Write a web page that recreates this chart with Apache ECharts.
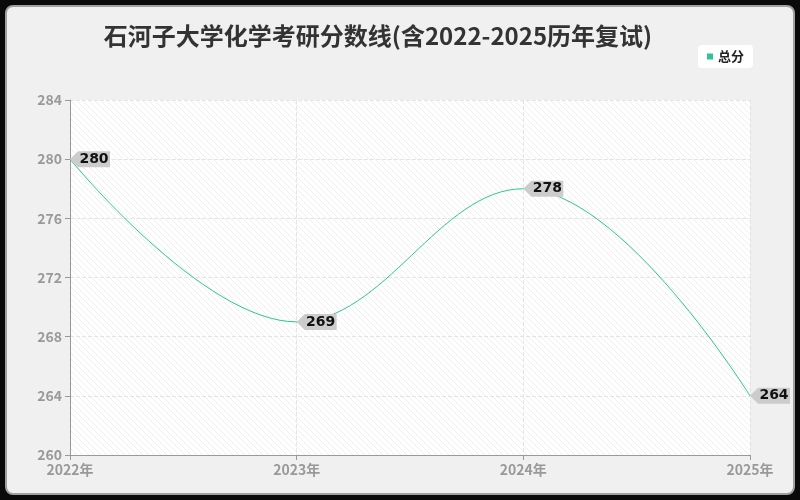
<!DOCTYPE html>
<html>
<head>
<meta charset="utf-8">
<script src="https://cdn.jsdelivr.net/npm/echarts@6/dist/echarts.min.js"></script>
<style>
html,body{margin:0;padding:0;background:#0a0a0a;}
#box{position:absolute;left:5px;top:5px;width:786px;height:486px;border:2px solid #a0a0a0;border-radius:8px;background:#f0f0f0;overflow:hidden;}
#chart{width:786px;height:486px;}
</style>
</head>
<body>
<div id="box"><div id="chart"></div></div>
<script>
var years=['2022年','2023年','2024年','2025年'];
var scores=[280,269,278,264];
var seriesName='总分';
var lineColor='#2fc497';

// 斜线底纹
var cv=document.createElement('canvas');
cv.width=6;cv.height=6;
var cx=cv.getContext('2d');
cx.fillStyle='#ffffff';
cx.fillRect(0,0,6,6);
cx.strokeStyle='#efefef';
cx.lineWidth=1;
cx.beginPath();
cx.moveTo(0,0);cx.lineTo(6,6);
cx.moveTo(-1,5);cx.lineTo(1,7);
cx.moveTo(5,-1);cx.lineTo(7,1);
cx.stroke();

var myChart=echarts.init(document.getElementById('chart'));
var option={
	title:{
		text:'石河子大学化学考研分数线(含2022-2025历年复试)',
		left:366,
		textAlign:'center',
		top:12,
		textStyle:{fontSize:24,fontWeight:'bold',color:'#333',fontFamily:'Noto Sans CJK SC'}
	},
	legend:{
		data:[{name:seriesName,itemStyle:{color:lineColor}}],
		right:40,
		top:38,
		backgroundColor:'#ffffff',
		borderRadius:4,
		padding:[5,9],
		icon:'rect',
		itemWidth:6,
		itemHeight:6,
		itemGap:6,
		textStyle:{fontSize:13,fontWeight:'bold',color:'#222',fontFamily:'Noto Sans CJK SC'}
	},
	grid:{
		left:63,
		right:43,
		top:93,
		bottom:38,
		show:true,
		borderWidth:0,
		backgroundColor:{image:cv,repeat:'repeat'}
	},
	xAxis:{
		type:'category',
		data:years,
		boundaryGap:false,
		axisLine:{lineStyle:{color:'#999'}},
		axisTick:{lineStyle:{color:'#999'}},
		axisLabel:{color:'#999',fontSize:14,fontWeight:'bold',fontFamily:'Noto Sans CJK SC'},
		splitLine:{show:true,lineStyle:{type:'dashed',color:'#e4e4e4'}}
	},
	yAxis:{
		type:'value',
		min:260,
		max:284,
		interval:4,
		axisLine:{show:true,lineStyle:{color:'#999'}},
		axisTick:{show:true,lineStyle:{color:'#999'}},
		axisLabel:{color:'#999',fontSize:14,fontWeight:'bold',fontFamily:'Noto Sans CJK SC'},
		splitLine:{show:true,lineStyle:{type:'dashed',color:'#e4e4e4'}}
	},
	series:[
		{
			name:seriesName,
			type:'line',
			data:scores,
			smooth:0.4,
			symbol:'path://M0,8 L8,0 L40,0 L40,16 L8,16 Z',
			symbolSize:[40,16],
			symbolOffset:[20,0],
			symbolKeepAspect:false,
			itemStyle:{color:'#cccccc'},
			lineStyle:{color:lineColor,width:1},
			label:{
				show:true,
				position:'inside',
				offset:[4,0],
				color:'#111',
				fontSize:14,
				fontWeight:'bold',
				fontFamily:'DejaVu Sans'
			},
			emphasis:{disabled:true},
			z:3
		}
	]
};
myChart.setOption(option);
</script>
</body>
</html>
